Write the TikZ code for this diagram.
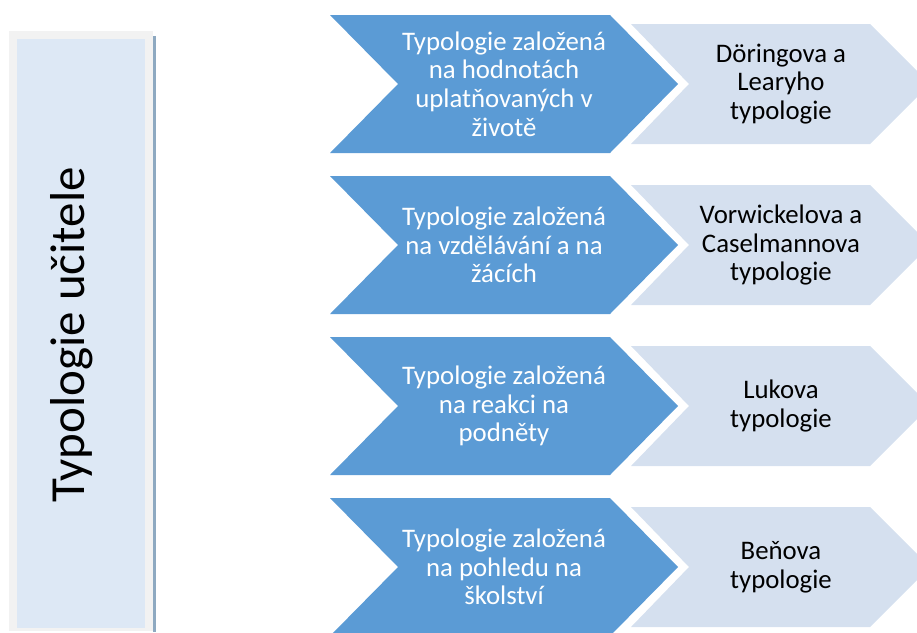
\documentclass[tikz,border=0pt]{standalone}
\usepackage{fontspec}
\setmainfont{Carlito}
\definecolor{chevblue}{HTML}{5B9BD5}
\definecolor{chevlight}{HTML}{D5E0EF}
\definecolor{panelfill}{HTML}{DDE8F5}
\definecolor{panelrim}{HTML}{F2F2F2}
\definecolor{panelshadow}{HTML}{8EA9C1}

% one row: blue chevron with its category, light chevron with the typology
% #1 name, #2 vertical centre, #3 category text, #4 typology text
\newcommand\chevronrow[4]{%
  \fill[chevblue] (330,{#2-69}) -- (610,{#2-69}) -- (678,#2) -- (610,{#2+69})
    -- (330,{#2+69}) -- (398,#2) -- cycle;
  \fill[chevlight] (631,{#2-60}) -- (870,{#2-60}) -- (930,#2) -- (870,{#2+60})
    -- (631,{#2+60}) -- (689,#2) -- cycle;
  \node[bluetext] (#1cat) at (504,#2) {#3};
  \node[lighttext] (#1typ) at (781,#2) {#4};
}

\begin{document}
\begin{tikzpicture}[x=1pt,y=-1pt,
  bluetext/.style={text=white, font=\fontsize{26.8}{28.6}\selectfont, align=center, inner sep=0pt},
  lighttext/.style={text=black, font=\fontsize{26.8}{28.6}\selectfont, align=center, inner sep=0pt},
  titletext/.style={rotate=90, anchor=base, font=\fontsize{49}{55}\selectfont, inner sep=0pt},
]
\useasboundingbox (0,0) rectangle (917,632);
\clip (0,0) rectangle (917,632);

% left panel with its rim and shadow
\fill[panelshadow] (153,36) rectangle (156,632);
\fill[panelrim] (9,31) rectangle (153,631);
\fill[panelfill] (17,39) rectangle (145,628);
\node[titletext] (title) at (84,335) {Typologie učitele};

\chevronrow{a}{84}{Typologie založená\\na hodnotách\\uplatňovaných v\\životě}{Döringova a\\Learyho\\typologie}
\chevronrow{b}{245}{Typologie založená\\na vzdělávání a na\\žácích}{Vorwickelova a\\Caselmannova\\typologie}
\chevronrow{c}{406}{Typologie založená\\na reakci na\\podněty}{Lukova\\typologie}
\chevronrow{d}{567}{Typologie založená\\na pohledu na\\školství}{Beňova\\typologie}
\end{tikzpicture}
\end{document}
